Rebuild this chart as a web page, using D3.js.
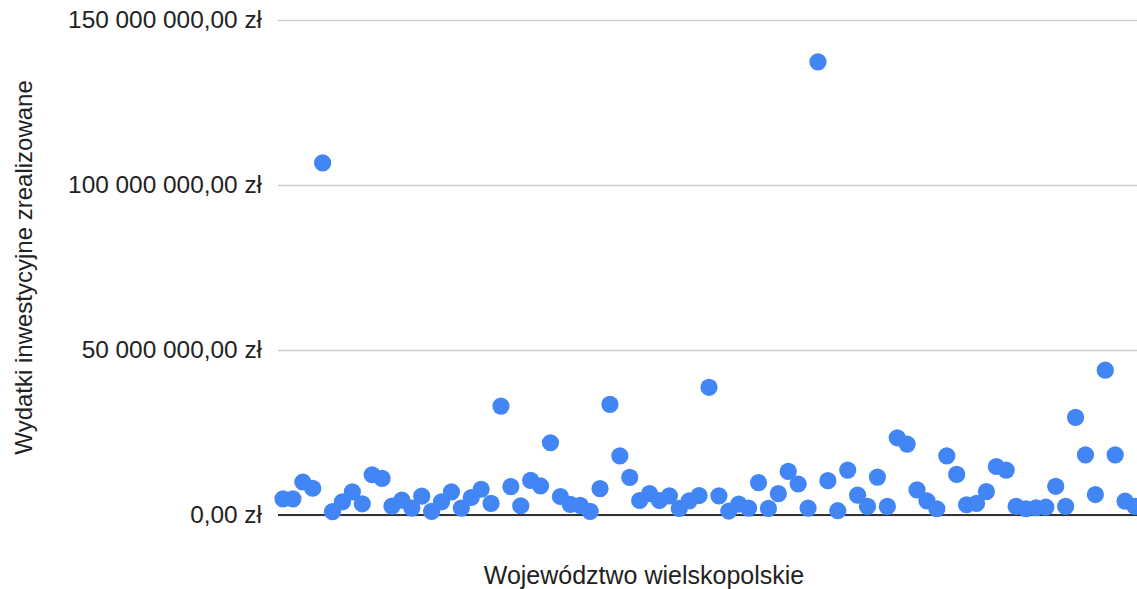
<!DOCTYPE html>
<html>
<head>
<meta charset="utf-8">
<script src="https://cdn.jsdelivr.net/npm/d3@7"></script>
<style>
  html, body { margin: 0; padding: 0; background: #ffffff; }
  svg { display: block; font-family: "Liberation Sans", Arial, sans-serif; }
</style>
</head>
<body>
<svg id="chart" width="1137" height="589"></svg>
<script>
// Wydatki inwestycyjne zrealizowane (zł), one point per unit, in order
const wydatki = [
  4.9e6, 4.9e6, 10.0e6, 8.1e6, 106.7e6, 1.0e6, 4.0e6, 7.0e6, 3.4e6, 12.2e6,
  11.1e6, 2.7e6, 4.5e6, 2.1e6, 5.7e6, 1.1e6, 4.0e6, 7.0e6, 2.1e6, 5.3e6,
  7.8e6, 3.5e6, 33.0e6, 8.6e6, 2.8e6, 10.5e6, 8.8e6, 21.9e6, 5.6e6, 3.2e6,
  2.9e6, 1.1e6, 8.0e6, 33.5e6, 17.9e6, 11.4e6, 4.4e6, 6.5e6, 4.4e6, 5.8e6,
  2.0e6, 4.3e6, 5.9e6, 38.7e6, 5.8e6, 1.2e6, 3.3e6, 2.1e6, 9.8e6, 2.0e6,
  6.5e6, 13.2e6, 9.4e6, 2.1e6, 137.3e6, 10.4e6, 1.3e6, 13.6e6, 6.0e6, 2.6e6,
  11.5e6, 2.6e6, 23.4e6, 21.5e6, 7.6e6, 4.3e6, 1.9e6, 17.9e6, 12.3e6, 3.1e6,
  3.5e6, 7.1e6, 14.7e6, 13.6e6, 2.6e6, 1.9e6, 2.2e6, 2.4e6, 8.7e6, 2.6e6,
  29.6e6, 18.2e6, 6.2e6, 43.9e6, 18.2e6, 4.2e6, 2.6e6
];
const yTicks = [0, 50e6, 100e6, 150e6];
const xTitle = "Województwo wielskopolskie";
const yTitle = "Wydatki inwestycyjne zrealizowane";

const svg = d3.select("#chart");
const plot = { left: 278, right: 1137, top: 20, bottom: 515 };

const pl = d3.formatLocale({ decimal: ",", thousands: " ", grouping: [3], currency: ["", " zł"] });
const fmt = pl.format("$,.2f");

const x = d3.scaleLinear().domain([1, wydatki.length]).range([283, 1135]);
const y = d3.scaleLinear().domain([0, 150e6]).range([plot.bottom, plot.top]);

// horizontal gridlines + labels
const yAxis = d3.axisLeft(y).tickValues(yTicks).tickFormat(fmt)
  .tickSize(-(plot.right - plot.left)).tickPadding(16);
const gy = svg.append("g").attr("transform", `translate(${plot.left},0)`).call(yAxis);
gy.select(".domain").remove();
gy.selectAll(".tick line").attr("stroke", "#cccccc").attr("stroke-width", 1.3);
gy.selectAll(".tick text").attr("fill", "#222222").attr("font-size", 24.4)
  .attr("font-family", "'Liberation Sans', Arial, sans-serif");

// baseline
svg.append("line")
  .attr("x1", plot.left).attr("x2", plot.right)
  .attr("y1", y(0)).attr("y2", y(0))
  .attr("stroke", "#333333").attr("stroke-width", 2);

// points
svg.append("g").selectAll("circle").data(wydatki).join("circle")
  .attr("cx", (d, i) => x(i + 1))
  .attr("cy", d => y(d))
  .attr("r", 8.6)
  .attr("fill", "#4285f4");

// axis titles
svg.append("text")
  .attr("x", 644).attr("y", 584)
  .attr("text-anchor", "middle")
  .attr("font-size", 25).attr("fill", "#222222")
  .text(xTitle);

svg.append("text")
  .attr("transform", `translate(32,${(plot.top + plot.bottom) / 2}) rotate(-90)`)
  .attr("text-anchor", "middle")
  .attr("font-size", 24).attr("fill", "#222222")
  .text(yTitle);
</script>
</body>
</html>
